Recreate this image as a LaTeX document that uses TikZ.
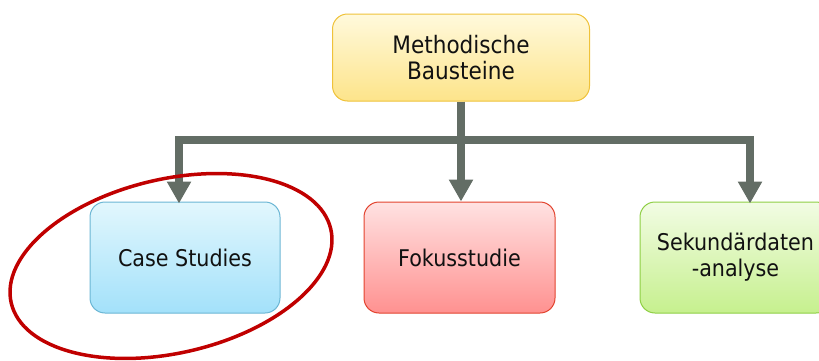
\documentclass[tikz,border=0pt]{standalone}
\usepackage{fontspec}
\setmainfont{DejaVu Sans Condensed}
\usetikzlibrary{arrows.meta}
\definecolor{conncol}{HTML}{636D65}
\definecolor{txtcol}{HTML}{111111}
\definecolor{ylwtop}{HTML}{FFF9DC}
\definecolor{ylwbot}{HTML}{FDE48A}
\definecolor{ylwbrd}{HTML}{EFC23A}
\definecolor{blutop}{HTML}{E2F7FD}
\definecolor{blubot}{HTML}{A3E1FA}
\definecolor{blubrd}{HTML}{6BB6D4}
\definecolor{redtop}{HTML}{FFE2E2}
\definecolor{redbot}{HTML}{FF9190}
\definecolor{redbrd}{HTML}{E2432E}
\definecolor{grntop}{HTML}{F2FCE4}
\definecolor{grnbot}{HTML}{C6F08E}
\definecolor{grnbrd}{HTML}{8FCF45}
\definecolor{ellcol}{HTML}{C00000}
\tikzset{
  x=1pt, y=1pt,
  boxbase/.style={rounded corners=15pt, line width=1pt, align=center,
    text=txtcol, font=\fontsize{23}{26}\selectfont, inner sep=0pt},
  ylwbox/.style={boxbase, draw=ylwbrd, top color=ylwtop, bottom color=ylwbot,
    minimum width=257pt, minimum height=87pt, font=\fontsize{24}{26}\selectfont},
  blubox/.style={boxbase, draw=blubrd, top color=blutop, bottom color=blubot,
    minimum width=190pt, minimum height=111pt},
  redbox/.style={boxbase, draw=redbrd, top color=redtop, bottom color=redbot,
    minimum width=191pt, minimum height=111pt},
  grnbox/.style={boxbase, draw=grnbrd, top color=grntop, bottom color=grnbot,
    minimum width=191pt, minimum height=111pt},
  conn/.style={draw=conncol, line width=8pt, line join=miter},
  tip/.tip={Triangle[width=23pt, length=22pt]},
  ring/.style={draw=ellcol, line width=3.5pt}
}
\begin{document}
\begin{tikzpicture}
\useasboundingbox (0,0) rectangle (819,360);
\node[ylwbox] (top) at (461,302.5) {Methodische\\Bausteine};
\node[blubox] (case) at (185,102.5) {Case Studies};
\node[redbox] (fok) at (459.5,102.5) {Fokusstudie};
\node[grnbox] (sek) at (735.5,102.5) {Sekund\"ardaten\\-analyse};
\coordinate (j) at (461,220);
\coordinate (caseend) at (179,156.5);
\coordinate (sekend) at (750,156.5);
\draw[conn, tip-tip] (caseend) |- (j) -| (sekend);
\draw[conn, -tip] (top.south) -- (top.south |- fok.north);
\begin{scope}[shift={(171,94)}, rotate=13]
  \draw[ring] (0,0) ellipse [x radius=164pt, y radius=87pt];
\end{scope}
\end{tikzpicture}
\end{document}
